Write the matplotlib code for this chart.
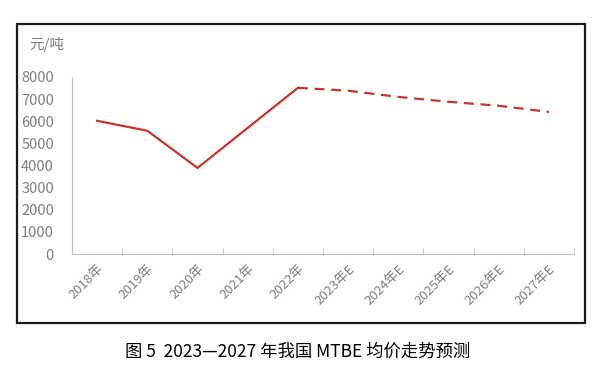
import numpy as np
import matplotlib
matplotlib.use("Agg")
import matplotlib.pyplot as plt
from matplotlib.patches import Rectangle

plt.rcParams['font.family'] = ['Noto Sans CJK SC', 'DejaVu Sans']

years = ['2018年', '2019年', '2020年', '2021年', '2022年',
         '2023年E', '2024年E', '2025年E', '2026年E', '2027年E']
price = [6020, 5570, 3890, 5700, 7510, 7380, 7100, 6880, 6700, 6420]
n_actual = 5  # 2018-2022 actual, rest forecast

red = '#c9342a'
grey = '#7f7f7f'

fig = plt.figure(figsize=(5.96, 3.71), dpi=100)
fig.patch.set_facecolor('white')

# outer frame around chart
fig.patches.append(Rectangle((17 / 596, 1 - 323 / 371), 568 / 596, 299 / 371,
                             transform=fig.transFigure, fill=False,
                             edgecolor='#231815', linewidth=1.6))

ax = fig.add_axes([72 / 596, 1 - 254 / 371, 502 / 596, 177 / 371])
x = np.arange(len(years))
ax.plot(x[:n_actual], price[:n_actual], color=red, lw=1.6, solid_joinstyle='miter')
ax.plot(x[n_actual - 1:], price[n_actual - 1:], color=red, lw=1.6, ls=(0, (4.5, 3)))

ax.set_xlim(-0.5, len(years) - 0.5)
ax.set_ylim(0, 8000)
ax.set_yticks(range(0, 8001, 1000))
ax.set_xticks(x)
ax.set_xticklabels(years, rotation=45, ha='right', rotation_mode='anchor')
ax.set_xticks(np.arange(-0.5, len(years)), minor=True)

for s in ['top', 'right']:
    ax.spines[s].set_visible(False)
for s in ['left', 'bottom']:
    ax.spines[s].set_color('#bfbfbf')
    ax.spines[s].set_linewidth(0.8)

ax.tick_params(axis='y', length=0, pad=13, labelsize=10.5, labelcolor=grey)
ax.tick_params(axis='x', which='major', length=0, pad=6, labelsize=9.5, labelcolor=grey)
ax.tick_params(axis='x', which='minor', direction='in', length=4, color='#bfbfbf')

fig.text(29 / 596, 1 - 44 / 371, '元/吨', fontsize=10.5, color=grey, va='center')
fig.text(0.5, 1 - 352 / 371, '图 5  2023—2027 年我国 MTBE 均价走势预测',
         fontsize=12.5, color='black', ha='center', va='center')

fig.savefig('out.png', dpi=100)
